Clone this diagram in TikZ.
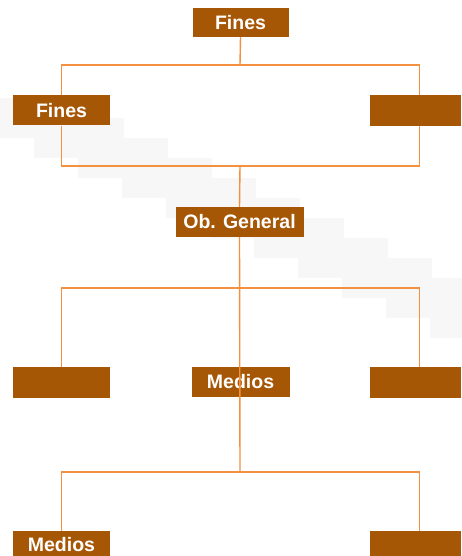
\documentclass[tikz,border=0pt]{standalone}
\usepackage{fontspec}
\setmainfont{Liberation Sans}
\definecolor{boxbrown}{HTML}{A55705}
\definecolor{lineorange}{HTML}{F39140}
\definecolor{bandgrey}{HTML}{F7F7F7}
\begin{document}
\begin{tikzpicture}[x=1pt,y=-1pt,
  box/.style={fill=boxbrown,draw=none,inner sep=0pt,text=white,font=\fontsize{19.5}{19.5}\selectfont\bfseries},
  link/.style={draw=lineorange,line width=1.4pt}]
\useasboundingbox (0,0) rectangle (461,556);
% faint staircase band
\foreach \i in {0,...,10}{
  \fill[bandgrey] ({\i*44-10},{98+\i*20}) rectangle ({\i*44+80},{138+\i*20});
}
% boxes
\node[box,minimum width=96pt,minimum height=29pt] (top) at (240.5,22.5) {Fines};
\node[box,minimum width=97pt,minimum height=30pt] (f1) at (61.5,110.5) {Fines};
\node[box,minimum width=91pt,minimum height=31pt] (f2) at (415.5,110.5) {};
\node[box,minimum width=128pt,minimum height=30pt] (ob) at (239.5,222) {Ob. General};
\node[box,minimum width=97pt,minimum height=31pt] (m1) at (61.5,382.5) {};
\node[box,minimum width=98pt,minimum height=30pt] (m2) at (240.5,382) {Medios};
\node[box,minimum width=91pt,minimum height=31pt] (m3) at (415.5,382.5) {};
\node[box,minimum width=97pt,minimum height=28pt] (b1) at (61.5,545) {Medios};
\node[box,minimum width=91pt,minimum height=28pt] (b2) at (415.5,545) {};
% junction coordinates
\coordinate (j1) at (240,65);
\coordinate (j2) at (240,166);
\coordinate (j3) at (240,288);
\coordinate (j4) at (240,472);
% connectors
\draw[link] (top.south) -- (j1);
\draw[link] (f1.north) |- (j1) -| ([xshift=4pt]f2.north);
\draw[link] (f1.south) |- (j2) -| ([xshift=4pt]f2.south);
\draw[link] (j2) -- (ob.north);
\draw[link] (ob.south) -- (j4);
\draw[link] (m1.north) |- (j3) -| ([xshift=4pt]m3.north);
\draw[link] (b1.north) |- (j4) -| ([xshift=4pt]b2.north);
\end{tikzpicture}
\end{document}
